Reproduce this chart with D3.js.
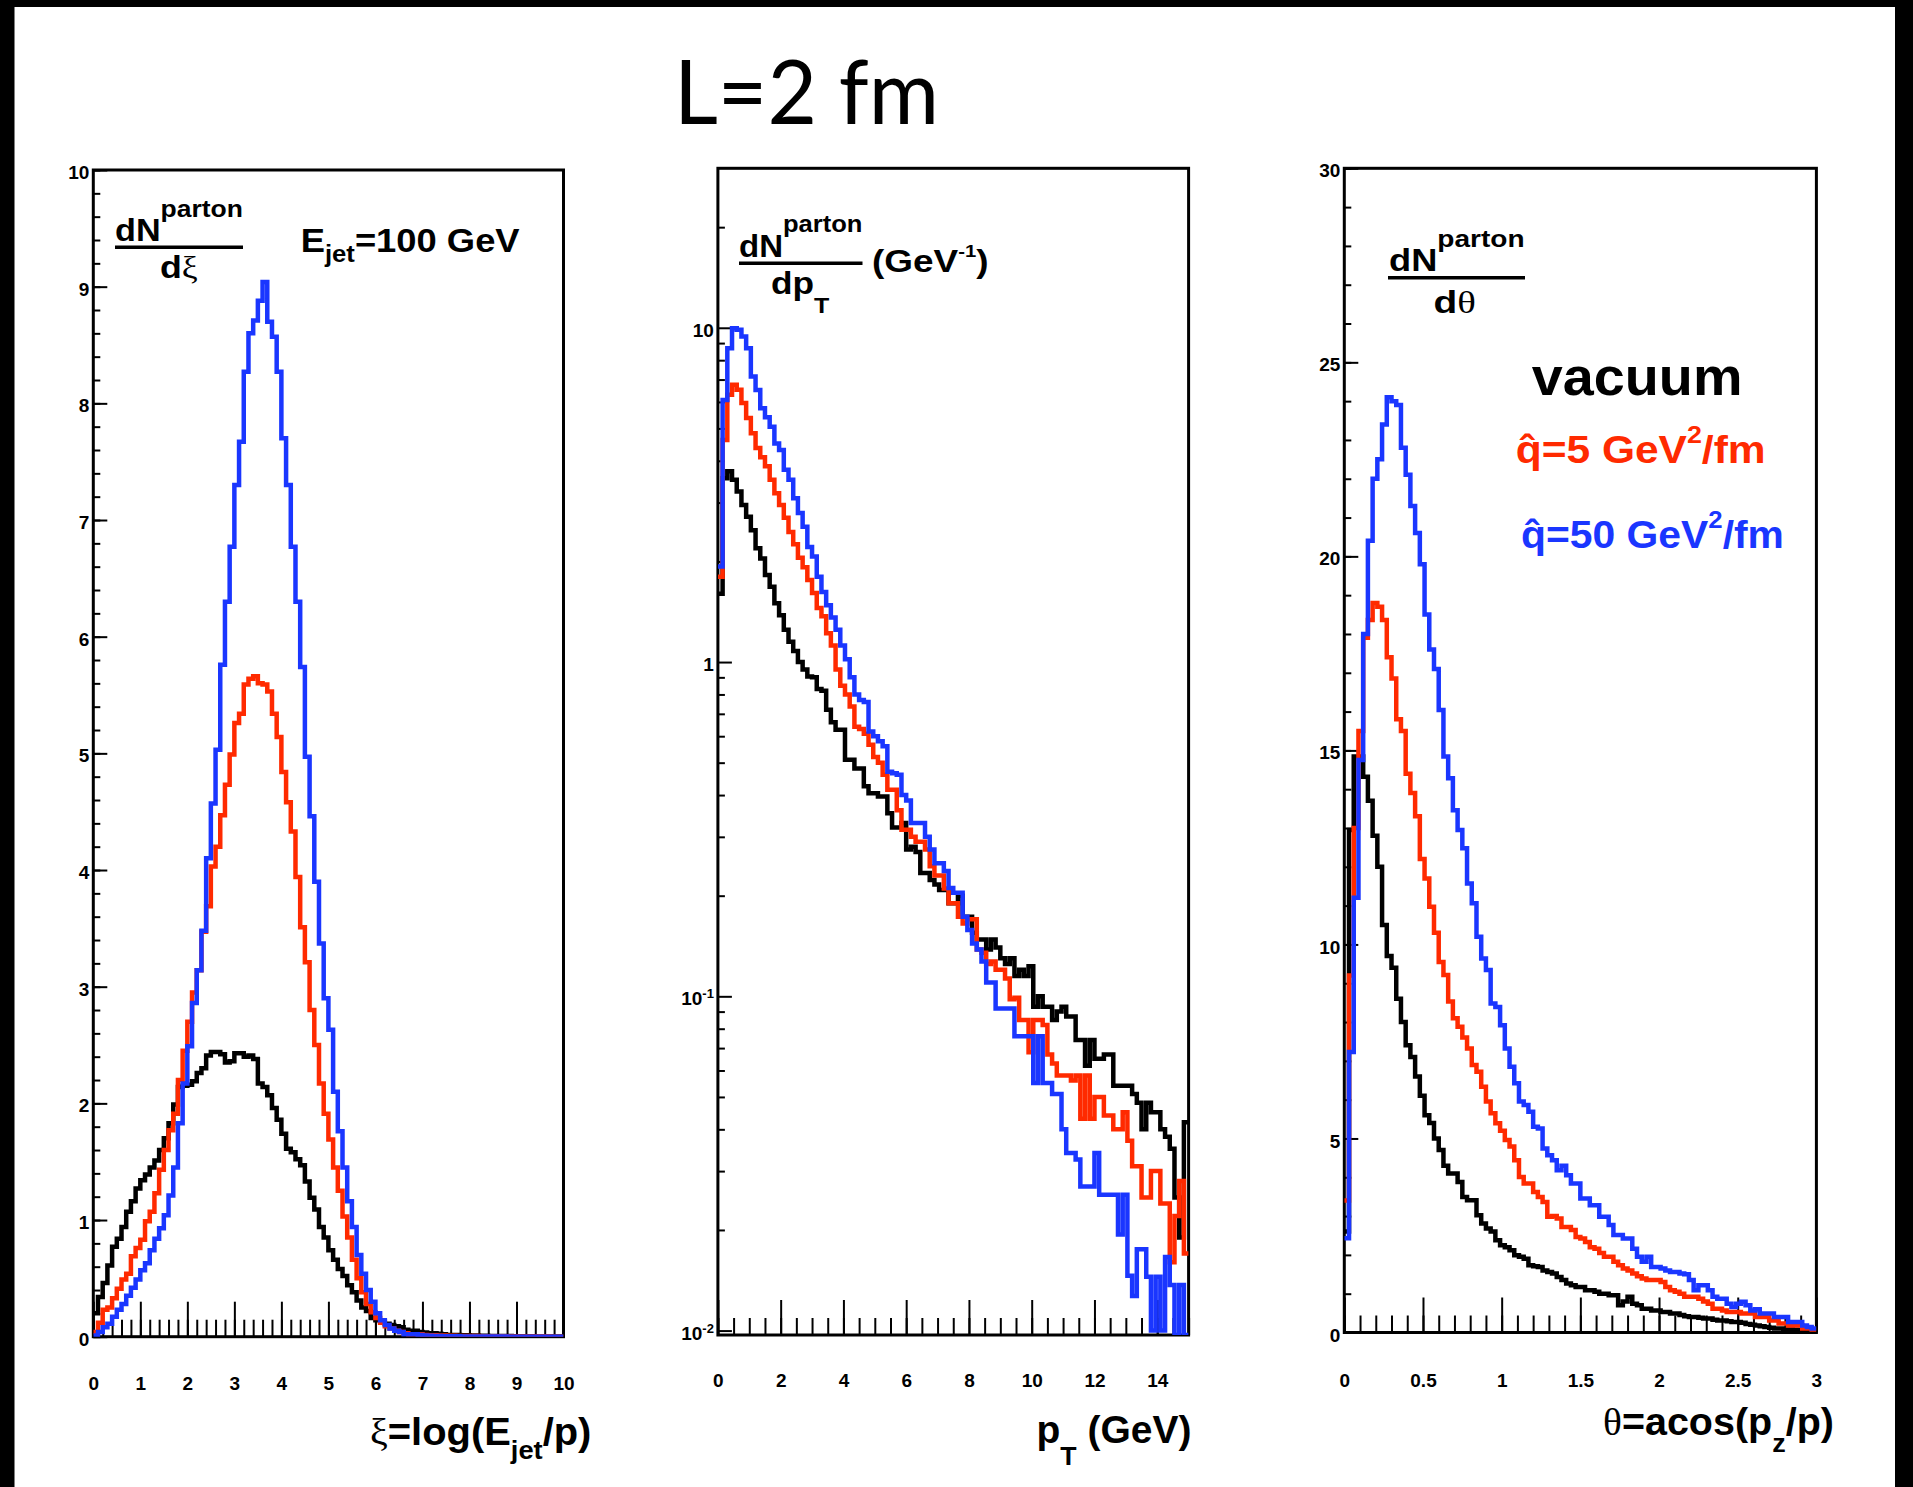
<!DOCTYPE html>
<html>
<head>
<meta charset="utf-8">
<script src="https://cdn.jsdelivr.net/npm/d3@7"></script>
<style>
  html, body { margin: 0; padding: 0; background: #ffffff; }
  svg { display: block; }
  text { font-family: "Liberation Sans", Arial, Helvetica, sans-serif; font-weight: bold; }
</style>
</head>
<body>
<div id="chart"></div>
<script>
// ---- data: 100 bins per histogram ----

// xi = log(E_jet/p), 0..10
const xiVacuum = [0.20, 0.34, 0.46, 0.61, 0.77, 0.84, 0.94, 1.07, 1.16, 1.27,
  1.34, 1.39, 1.45, 1.51, 1.60, 1.70, 1.83, 1.99, 2.14, 2.15,
  2.16, 2.19, 2.26, 2.30, 2.41, 2.44, 2.44, 2.42, 2.35, 2.36,
  2.43, 2.43, 2.40, 2.41, 2.38, 2.17, 2.14, 2.07, 1.96, 1.86,
  1.74, 1.61, 1.58, 1.52, 1.47, 1.33, 1.19, 1.09, 0.94, 0.85,
  0.74, 0.66, 0.58, 0.52, 0.44, 0.38, 0.31, 0.25, 0.22, 0.16,
  0.14, 0.13, 0.11, 0.10, 0.09, 0.08, 0.06, 0.05, 0.05, 0.04,
  0.035, 0.03, 0.03, 0.025, 0.02, 0.015, 0.015, 0.015, 0.012, 0.012,
  0.010, 0.010, 0.008, 0.008, 0.007, 0.006, 0.006, 0.005, 0.005, 0.004,
  0.004, 0.003, 0.003, 0.003, 0.002, 0.002, 0.002, 0.001, 0.001, 0.001];
const xiQhat5 = [0.04, 0.12, 0.23, 0.25, 0.33, 0.41, 0.49, 0.54, 0.69, 0.76,
  0.83, 0.99, 1.07, 1.23, 1.43, 1.60, 1.77, 1.91, 2.20, 2.45,
  2.70, 2.95, 3.14, 3.47, 3.69, 4.03, 4.20, 4.47, 4.73, 4.99,
  5.26, 5.34, 5.59, 5.64, 5.66, 5.60, 5.59, 5.53, 5.34, 5.14,
  4.84, 4.58, 4.33, 3.94, 3.51, 3.21, 2.80, 2.50, 2.17, 1.91,
  1.69, 1.45, 1.25, 1.03, 0.85, 0.66, 0.50, 0.38, 0.28, 0.21,
  0.16, 0.12, 0.09, 0.07, 0.05, 0.04, 0.03, 0.02, 0.02, 0.02,
  0.015, 0.012, 0.012, 0.010, 0.010, 0.008, 0.008, 0.007, 0.006, 0.006,
  0.005, 0.005, 0.004, 0.004, 0.004, 0.003, 0.003, 0.003, 0.002, 0.002,
  0.002, 0.002, 0.001, 0.001, 0.001, 0.001, 0.001, 0.0, 0.0, 0.0];
const xiQhat50 = [0.01, 0.04, 0.08, 0.11, 0.17, 0.23, 0.28, 0.35, 0.42, 0.49,
  0.57, 0.63, 0.74, 0.84, 0.93, 1.04, 1.21, 1.45, 1.83, 2.17,
  2.49, 2.86, 3.14, 3.48, 4.10, 4.57, 5.03, 5.76, 6.30, 6.77,
  7.30, 7.67, 8.27, 8.60, 8.71, 8.88, 9.04, 8.70, 8.57, 8.27,
  7.70, 7.30, 6.77, 6.30, 5.74, 4.97, 4.46, 3.90, 3.37, 2.90,
  2.63, 2.10, 1.76, 1.45, 1.16, 0.94, 0.70, 0.54, 0.40, 0.30,
  0.20, 0.14, 0.10, 0.07, 0.05, 0.04, 0.02, 0.02, 0.02, 0.015,
  0.010, 0.008, 0.006, 0.005, 0.004, 0.004, 0.003, 0.003, 0.002, 0.002,
  0.002, 0.002, 0.001, 0.001, 0.001, 0.001, 0.001, 0.001, 0.0, 0.0,
  0.0, 0.0, 0.0, 0.0, 0.0, 0.0, 0.0, 0.0, 0.0, 0.0];

// pT (GeV), 0..15, log y
const ptVacuum = [1.60, 3.55, 3.72, 3.51, 3.24, 2.95, 2.72, 2.48, 2.19, 2.04,
  1.82, 1.68, 1.50, 1.38, 1.25, 1.15, 1.08, 1.00, 0.95, 0.905,
  0.90, 0.83, 0.82, 0.72, 0.66, 0.627, 0.627, 0.51, 0.51, 0.48,
  0.48, 0.425, 0.405, 0.405, 0.396, 0.396, 0.353, 0.32, 0.32, 0.33,
  0.275, 0.28, 0.27, 0.234, 0.234, 0.223, 0.216, 0.208, 0.208, 0.19,
  0.19, 0.20, 0.173, 0.173, 0.155, 0.148, 0.148, 0.138, 0.148, 0.14,
  0.13, 0.125, 0.13, 0.115, 0.12, 0.115, 0.123, 0.093, 0.10, 0.093,
  0.093, 0.085, 0.09, 0.093, 0.087, 0.087, 0.074, 0.074, 0.062, 0.074,
  0.065, 0.065, 0.067, 0.067, 0.054, 0.054, 0.054, 0.054, 0.051, 0.048,
  0.040, 0.048, 0.045, 0.045, 0.040, 0.038, 0.035, 0.025, 0.019, 0.042];
const ptQhat5 = [1.80, 4.62, 6.30, 6.76, 6.53, 5.96, 5.37, 4.84, 4.37, 4.10,
  3.85, 3.51, 3.20, 2.95, 2.70, 2.45, 2.25, 2.05, 1.92, 1.76,
  1.61, 1.45, 1.37, 1.22, 1.12, 0.95, 0.85, 0.80, 0.736, 0.64,
  0.63, 0.61, 0.566, 0.52, 0.50, 0.46, 0.415, 0.415, 0.36, 0.315,
  0.315, 0.30, 0.29, 0.29, 0.275, 0.245, 0.23, 0.23, 0.21, 0.19,
  0.19, 0.173, 0.165, 0.17, 0.17, 0.138, 0.135, 0.125, 0.127, 0.12,
  0.12, 0.113, 0.098, 0.099, 0.085, 0.085, 0.068, 0.085, 0.085, 0.082,
  0.067, 0.063, 0.058, 0.058, 0.058, 0.056, 0.058, 0.043, 0.058, 0.043,
  0.050, 0.050, 0.044, 0.044, 0.040, 0.040, 0.045, 0.037, 0.031, 0.031,
  0.025, 0.025, 0.030, 0.030, 0.024, 0.024, 0.016, 0.022, 0.028, 0.017];
const ptQhat50 = [1.93, 6.08, 8.69, 9.97, 9.86, 9.41, 8.69, 7.15, 6.52, 5.74,
  5.40, 5.06, 4.51, 4.31, 3.76, 3.51, 3.09, 2.79, 2.54, 2.21,
  2.07, 1.80, 1.62, 1.48, 1.36, 1.25, 1.12, 1.02, 0.90, 0.80,
  0.77, 0.76, 0.62, 0.60, 0.58, 0.56, 0.47, 0.465, 0.46, 0.40,
  0.385, 0.33, 0.33, 0.33, 0.30, 0.275, 0.25, 0.25, 0.237, 0.211,
  0.204, 0.204, 0.173, 0.158, 0.144, 0.138, 0.127, 0.11, 0.11, 0.092,
  0.092, 0.092, 0.092, 0.076, 0.076, 0.076, 0.076, 0.055, 0.076, 0.055,
  0.055, 0.051, 0.051, 0.040, 0.034, 0.034, 0.0325, 0.027, 0.027, 0.027,
  0.034, 0.0255, 0.0255, 0.0255, 0.0255, 0.0194, 0.0255, 0.0146, 0.0127, 0.0175,
  0.0175, 0.0145, 0.0100, 0.0145, 0.0100, 0.0166, 0.0137, 0, 0.0137, 0];

// theta = acos(pz/p), 0..3
const thetaVacuum = [2.6, 12.95, 14.84, 14.84, 14.32, 13.7, 12.8, 12.0, 10.5, 9.7,
  9.4, 8.6, 8.0, 7.4, 7.1, 6.6, 6.1, 5.6, 5.4, 5.0,
  4.7, 4.3, 4.10, 4.10, 3.88, 3.49, 3.41, 3.41, 3.02, 2.81,
  2.68, 2.60, 2.38, 2.25, 2.20, 2.12, 1.99, 1.95, 1.90, 1.73,
  1.71, 1.69, 1.60, 1.56, 1.52, 1.43, 1.35, 1.26, 1.22, 1.17,
  1.17, 1.09, 1.09, 1.05, 1.00, 1.00, 0.96, 0.96, 0.70, 0.80,
  0.92, 0.74, 0.70, 0.61, 0.61, 0.57, 0.57, 0.53, 0.53, 0.49,
  0.49, 0.45, 0.42, 0.40, 0.40, 0.38, 0.36, 0.36, 0.33, 0.31,
  0.31, 0.29, 0.27, 0.27, 0.25, 0.22, 0.20, 0.18, 0.16, 0.14,
  0.12, 0.10, 0.10, 0.08, 0.08, 0.07, 0.06, 0.05, 0.05, 0.04];
const thetaQhat5 = [3.4, 9.2, 13.0, 15.5, 17.9, 18.36, 18.8, 18.7, 18.36, 17.4,
  16.85, 15.8, 15.5, 14.4, 13.9, 13.3, 12.2, 11.7, 10.97, 10.3,
  9.55, 9.21, 8.53, 8.10, 7.88, 7.60, 7.32, 6.89, 6.72, 6.33,
  5.95, 5.65, 5.39, 5.20, 4.96, 4.79, 4.44, 4.01, 3.84, 3.84,
  3.62, 3.49, 3.36, 2.98, 3.00, 2.94, 2.72, 2.72, 2.64, 2.46,
  2.42, 2.33, 2.20, 2.16, 2.05, 1.95, 1.95, 1.82, 1.73, 1.65,
  1.60, 1.52, 1.45, 1.39, 1.35, 1.35, 1.35, 1.30, 1.17, 1.09,
  1.05, 1.00, 0.92, 0.92, 0.92, 0.87, 0.80, 0.74, 0.61, 0.61,
  0.57, 0.53, 0.53, 0.53, 0.49, 0.49, 0.49, 0.40, 0.40, 0.40,
  0.31, 0.31, 0.23, 0.23, 0.18, 0.18, 0.18, 0.10, 0.10, 0.08];
const thetaQhat50 = [2.43, 7.23, 11.2, 14.75, 18.0, 20.4, 22.0, 22.5, 23.4, 24.1,
  24.0, 23.9, 22.8, 22.1, 21.3, 20.6, 19.8, 18.5, 17.6, 17.1,
  16.04, 14.84, 14.28, 13.46, 12.95, 12.48, 11.57, 11.06, 10.2, 9.64,
  9.34, 8.48, 8.39, 7.92, 7.32, 6.85, 6.42, 5.95, 5.86, 5.69,
  5.30, 5.26, 4.74, 4.57, 4.44, 4.18, 4.30, 4.05, 3.84, 3.84,
  3.45, 3.45, 3.28, 3.28, 2.98, 2.98, 2.77, 2.51, 2.51, 2.42,
  2.42, 2.16, 1.95, 1.82, 1.95, 1.69, 1.69, 1.65, 1.60, 1.56,
  1.56, 1.52, 1.50, 1.35, 1.09, 1.22, 1.22, 1.09, 0.92, 0.87,
  0.87, 0.74, 0.66, 0.74, 0.79, 0.70, 0.57, 0.60, 0.49, 0.49,
  0.49, 0.40, 0.40, 0.40, 0.27, 0.27, 0.27, 0.18, 0.14, 0.10];

// tick values
const xiXTicks = [0, 1, 2, 3, 4, 5, 6, 7, 8, 9, 10];
const xiYTicks = [0, 1, 2, 3, 4, 5, 6, 7, 8, 9, 10];
const ptXTicks = [0, 2, 4, 6, 8, 10, 12, 14];
const ptYTicks = [0.01, 0.1, 1, 10];
const ptYMinor = [0.02, 0.03, 0.04, 0.05, 0.06, 0.07, 0.08, 0.09,
  0.2, 0.3, 0.4, 0.5, 0.6, 0.7, 0.8, 0.9, 2, 3, 4, 5, 6, 7, 8, 9, 20];
const thetaXTicks = [0, 0.5, 1, 1.5, 2, 2.5, 3];
const thetaYTicks = [0, 5, 10, 15, 20, 25, 30];

const seriesColors = ['#000000', '#ff2a00', '#1a36ff'];

// ---- page ----
const W = 1913, H = 1487;
const svg = d3.select('#chart').append('svg')
  .attr('width', W).attr('height', H)
  .style('background', '#ffffff');

svg.append('rect').attr('x', 0).attr('y', 0).attr('width', W).attr('height', H).attr('fill', '#ffffff');

// black border of the slide
svg.append('rect').attr('x', 0).attr('y', 0).attr('width', W).attr('height', 7).attr('fill', '#000');
svg.append('rect').attr('x', 0).attr('y', 0).attr('width', 14.5).attr('height', H).attr('fill', '#000');
svg.append('rect').attr('x', 1895).attr('y', 0).attr('width', W - 1895).attr('height', H).attr('fill', '#000');

const panels = [
  {
    id: 'xi',
    box: { left: 93.3, right: 563.5, top: 170, bottom: 1336.7 },
    xDomain: [0, 10], yDomain: [0, 10], yLog: false,
    series: [xiVacuum, xiQhat5, xiQhat50],
    xMajor: xiXTicks, xMinor: d3.range(0, 10.0001, 0.2),
    yMajor: xiYTicks, yMinor: d3.range(0, 10.0001, 0.2),
    xPad: 40
  },
  {
    id: 'pt',
    box: { left: 717.9, right: 1188.6, top: 168.3, bottom: 1335 },
    xDomain: [0, 15], yDomain: [0.0097, 30], yLog: true,
    series: [ptVacuum, ptQhat5, ptQhat50],
    xMajor: ptXTicks, xMinor: d3.range(0, 15.0001, 0.5),
    yMajor: ptYTicks, yMinor: ptYMinor,
    xPad: 39
  },
  {
    id: 'theta',
    box: { left: 1344.3, right: 1816.4, top: 168.3, bottom: 1332.5 },
    xDomain: [0, 3], yDomain: [0, 30], yLog: false,
    series: [thetaVacuum, thetaQhat5, thetaQhat50],
    xMajor: thetaXTicks, xMinor: d3.range(0, 3.0001, 0.1),
    yMajor: thetaYTicks, yMinor: d3.range(0, 30.0001, 1),
    xPad: 41.5
  }
];

function styleAxis(g) {
  g.select('.domain').remove();
  g.attr('font-family', '"Liberation Sans", Arial, sans-serif')
    .attr('font-size', 19)
    .attr('font-weight', 'bold');
  g.selectAll('.tick line').attr('stroke', '#000').attr('stroke-width', 2);
  g.selectAll('.tick text').attr('fill', '#000');
}

function drawPanel(p) {
  const x = d3.scaleLinear().domain(p.xDomain).range([p.box.left, p.box.right]);
  const y = (p.yLog ? d3.scaleLog() : d3.scaleLinear())
    .domain(p.yDomain).range([p.box.bottom, p.box.top]);

  const g = svg.append('g').attr('class', `panel-${p.id}`);

  // minor ticks
  g.append('g')
    .attr('transform', `translate(0,${p.box.bottom})`)
    .call(d3.axisBottom(x).tickValues(p.xMinor).tickSizeInner(-17).tickSizeOuter(0).tickFormat(''))
    .call(styleAxis);
  g.append('g')
    .attr('transform', `translate(${p.box.left},0)`)
    .call(d3.axisLeft(y).tickValues(p.yMinor).tickSizeInner(-7).tickSizeOuter(0).tickFormat(''))
    .call(styleAxis);

  // major ticks with labels
  g.append('g')
    .attr('transform', `translate(0,${p.box.bottom})`)
    .call(d3.axisBottom(x).tickValues(p.xMajor).tickSizeInner(-35).tickSizeOuter(0)
      .tickPadding(p.xPad).tickFormat(d3.format('~g')))
    .call(styleAxis);

  const yAxisG = g.append('g')
    .attr('transform', `translate(${p.box.left},0)`)
    .call(d3.axisLeft(y).tickValues(p.yMajor).tickSizeInner(-14).tickSizeOuter(0)
      .tickPadding(4).tickFormat(d3.format('~g')))
    .call(styleAxis);
  yAxisG.selectAll('.tick text').attr('y', 2.5);

  if (p.yLog) {
    yAxisG.selectAll('.tick text').each(function(d) {
      if (d < 1) {
        const t = d3.select(this);
        t.text('10');
        t.append('tspan').attr('dy', '-0.55em').attr('font-size', 13)
          .text(String(Math.round(Math.log10(d))));
      }
    });
  }

  // frame
  g.append('rect')
    .attr('x', p.box.left).attr('y', p.box.top)
    .attr('width', p.box.right - p.box.left)
    .attr('height', p.box.bottom - p.box.top)
    .attr('fill', 'none').attr('stroke', '#000').attr('stroke-width', 3);

  // histograms
  const clipId = `clip-${p.id}`;
  svg.append('clipPath').attr('id', clipId).append('rect')
    .attr('x', p.box.left).attr('y', p.box.top)
    .attr('width', p.box.right - p.box.left)
    .attr('height', p.box.bottom - p.box.top);

  const yMin = p.yDomain[0];
  const line = d3.line()
    .x(d => x(d[0]))
    .y(d => y(Math.max(d[1], yMin)))
    .curve(d3.curveStepAfter);

  p.series.forEach((values, si) => {
    const w = (p.xDomain[1] - p.xDomain[0]) / values.length;
    const pts = values.map((v, i) => [p.xDomain[0] + i * w, v]);
    pts.push([p.xDomain[1], values[values.length - 1]]);
    g.append('path')
      .attr('clip-path', `url(#${clipId})`)
      .attr('d', line(pts))
      .attr('fill', 'none')
      .attr('stroke', seriesColors[si])
      .attr('stroke-width', 4.5)
      .attr('stroke-linejoin', 'miter');
  });
}

panels.forEach(drawPanel);

// text placed by its left ink edge and baseline, stretched to the width seen in the figure
function placeText(x, baseline, width, build) {
  const g = svg.append('g');
  const t = g.append('text').attr('x', 0).attr('y', 0);
  build(t);
  const bb = t.node().getBBox();
  const sx = bb.width > 0 ? width / bb.width : 1;
  g.attr('transform', `translate(${x - bb.x * sx},${baseline}) scale(${sx},1)`);
  return g;
}

const serif = '"Liberation Serif", "DejaVu Serif", serif';

// title
placeText(674, 124, 265, t => {
  t.style('font-family', 'Lato, "Open Sans", sans-serif').style('font-weight', 400)
    .attr('font-size', 90).text('L=2 fm');
});

// panel 1 labels
placeText(115, 240.7, 128, t => {
  t.attr('font-size', 31);
  t.append('tspan').text('dN');
  t.append('tspan').attr('font-size', 24).attr('dy', -24).text('parton');
});
svg.append('line').attr('x1', 115).attr('x2', 243).attr('y1', 247.3).attr('y2', 247.3)
  .attr('stroke', '#000').attr('stroke-width', 3.5);
placeText(160, 278, 38, t => {
  t.attr('font-size', 31);
  t.append('tspan').text('d');
  t.append('tspan').style('font-family', serif).style('font-weight', 'normal').text('ξ');
});
placeText(300.7, 251.7, 219.3, t => {
  t.attr('font-size', 34);
  t.append('tspan').text('E');
  t.append('tspan').attr('font-size', 24).attr('dy', 10).text('jet');
  t.append('tspan').attr('dy', -10).text('=100 GeV');
});
placeText(370, 1445, 221.5, t => {
  t.attr('font-size', 38);
  t.append('tspan').style('font-family', serif).style('font-weight', 'normal').text('ξ');
  t.append('tspan').text('=log(E');
  t.append('tspan').attr('font-size', 26).attr('dy', 14).text('jet');
  t.append('tspan').attr('dy', -14).text('/p)');
});

// panel 2 labels
placeText(739, 257.3, 123.5, t => {
  t.attr('font-size', 31);
  t.append('tspan').text('dN');
  t.append('tspan').attr('font-size', 24).attr('dy', -25.6).text('parton');
});
svg.append('line').attr('x1', 739).attr('x2', 862.5).attr('y1', 263.3).attr('y2', 263.3)
  .attr('stroke', '#000').attr('stroke-width', 3.5);
placeText(771, 294, 59, t => {
  t.attr('font-size', 31);
  t.append('tspan').text('dp');
  t.append('tspan').attr('font-size', 22).attr('dy', 18.7).text('T');
});
placeText(872, 271.7, 116.6, t => {
  t.attr('font-size', 31);
  t.append('tspan').text('(GeV');
  t.append('tspan').attr('font-size', 17).attr('dy', -15).text('-1');
  t.append('tspan').attr('dy', 15).text(')');
});
placeText(1036.5, 1443, 155, t => {
  t.attr('font-size', 38);
  t.append('tspan').text('p');
  t.append('tspan').attr('font-size', 26).attr('dy', 22).text('T');
  t.append('tspan').attr('dy', -22).text(' (GeV)');
});

// panel 3 labels
placeText(1389, 270.7, 135.6, t => {
  t.attr('font-size', 31);
  t.append('tspan').text('dN');
  t.append('tspan').attr('font-size', 24).attr('dy', -24).text('parton');
});
svg.append('line').attr('x1', 1388).attr('x2', 1525).attr('y1', 277.7).attr('y2', 277.7)
  .attr('stroke', '#000').attr('stroke-width', 3.5);
placeText(1433.6, 313, 42.4, t => {
  t.attr('font-size', 31);
  t.append('tspan').text('d');
  t.append('tspan').style('font-family', serif).style('font-weight', 'normal').text('θ');
});
placeText(1603, 1435, 231, t => {
  t.attr('font-size', 38);
  t.append('tspan').style('font-family', serif).style('font-weight', 'normal').text('θ');
  t.append('tspan').text('=acos(p');
  t.append('tspan').attr('font-size', 26).attr('dy', 17).text('z');
  t.append('tspan').attr('dy', -17).text('/p)');
});

// legend
const legendLines = [
  { x: 1531.8, y: 395, w: 210.7, color: seriesColors[0], label: 'vacuum', size: 54 },
  { x: 1515.7, y: 463, w: 250, color: seriesColors[1], q: '5', size: 38 },
  { x: 1521, y: 548, w: 263, color: seriesColors[2], q: '50', size: 38 }
];
legendLines.forEach(l => {
  if (l.label) {
    placeText(l.x, l.y, l.w, t => t.attr('font-size', l.size).attr('fill', l.color).text(l.label));
    return;
  }
  placeText(l.x, l.y, l.w, t => {
    t.attr('font-size', l.size).attr('fill', l.color);
    // q-hat written with a combining circumflex so it stays one run of text
    t.append('tspan').text(`q\u0302=${l.q} GeV`);
    t.append('tspan').attr('font-size', 24).attr('dy', -20).text('2');
    t.append('tspan').attr('dy', 20).text('/fm');
  });
});
</script>
</body>
</html>
